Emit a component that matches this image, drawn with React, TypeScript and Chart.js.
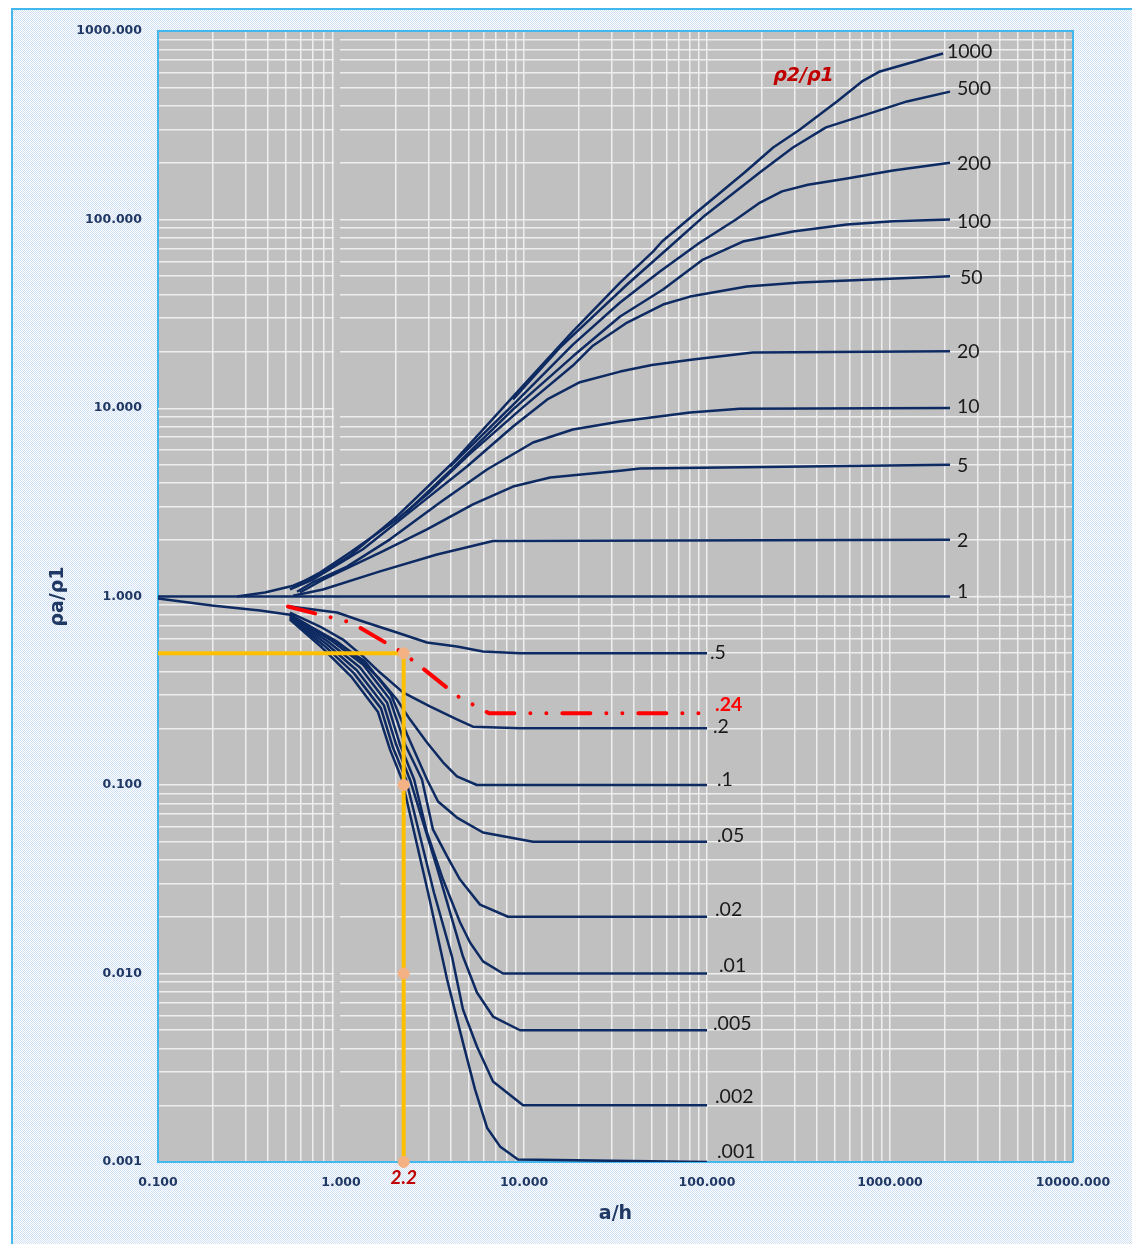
import React, { useEffect, useRef } from 'react';
import { Chart, registerables } from 'chart.js';

Chart.register(...registerables);

type Pt = [number, number];

const W = 1132;
const H = 1244;

// labelled decades on both log axes
const X_TICKS = [0.1, 1, 10, 100, 1000, 10000];
const Y_TICKS = [0.001, 0.01, 0.1, 1, 10, 100, 1000];

// ρ2/ρ1 > 1 : apparent resistivity ρa/ρ1 against a/h
const R1000: Pt[] = [[0.27, 1.0], [0.384, 1.05], [0.547, 1.14], [0.768, 1.31], [1.12, 1.65], [2.02, 2.66], [4.09, 5.14], [8.71, 11.5], [18.5, 25.5], [33.5, 46.3], [50.7, 67.6], [56.8, 76.4], [91.5, 113], [161, 178], [230, 241], [322, 300], [513, 423], [703, 540], [881, 610], [1948, 760]];
const R500: Pt[] = [[8.71, 11.1], [15.7, 20.9], [36.6, 45.2], [62.8, 71.9], [95.1, 103], [195, 178], [295, 241], [447, 308], [807, 370], [1238, 423], [2128, 477]];
const R200: Pt[] = [[3.94, 4.89], [8.71, 10.4], [18.5, 21.7], [33.5, 36.3], [55.3, 53.0], [91.5, 75.5], [144, 100], [195, 123], [257, 141], [356, 153], [582, 165], [1038, 182], [2128, 200]];
const R100: Pt[] = [[2.27, 2.79], [4.09, 4.8], [8.71, 9.83], [18.5, 18.8], [33.5, 30.6], [57.5, 42.5], [95.1, 61.3], [157, 76.4], [295, 86.3], [582, 94.0], [1038, 98], [2128, 100]];
const R50: Pt[] = [[0.547, 1.12], [0.768, 1.34], [1.12, 1.71], [2.02, 2.56], [2.99, 3.52], [5.0, 5.66], [10, 10.2], [18.5, 16.8], [23.8, 21.4], [36.6, 28.4], [57.5, 35.4], [80.8, 39.0], [165, 44.1], [322, 46.3], [2128, 50]];
const R20: Pt[] = [[0.526, 1.09], [0.703, 1.23], [1.318, 1.78], [2.47, 2.89], [4.88, 4.89], [8.71, 7.98], [13.4, 11.1], [20.2, 13.7], [33.5, 15.6], [50, 16.9], [83.8, 18.1], [178, 19.7], [2128, 20]];
const R10: Pt[] = [[0.575, 1.06], [0.703, 1.19], [1.079, 1.44], [1.853, 2.01], [3.475, 3.15], [6.28, 4.72], [11.2, 6.56], [18.5, 7.69], [33.5, 8.48], [80.8, 9.46], [151, 9.9], [2128, 10]];
const R5: Pt[] = [[0.597, 1.05], [0.797, 1.23], [1.634, 1.71], [2.95, 2.27], [5.26, 3.08], [8.71, 3.83], [13.9, 4.28], [33.5, 4.65], [43, 4.78], [2128, 5]];
const R2: Pt[] = [[0.547, 1.01], [0.797, 1.09], [1.634, 1.36], [3.346, 1.67], [6.77, 1.97], [2128, 2]];
const R1: Pt[] = [[0.1, 1], [2128, 1]];
const R1_TAIL: Pt[] = [[2900, 1], [10000, 1]];

// ρ2/ρ1 < 1 family
const R05: Pt[] = [[0.526, 0.885], [0.951, 0.822], [1.318, 0.737], [2.02, 0.644], [2.95, 0.57], [4.3, 0.543], [5.97, 0.511], [9.51, 0.5], [100, 0.5]];
const R02: Pt[] = [[0.526, 0.822], [0.768, 0.693], [1.025, 0.591], [1.318, 0.481], [1.634, 0.395], [2.18, 0.31], [3.06, 0.261], [4.3, 0.223], [5.26, 0.204], [9.51, 0.2], [100, 0.2]];
const R01: Pt[] = [[0.526, 0.803], [0.677, 0.693], [0.951, 0.577], [1.27, 0.463], [1.634, 0.363], [2.02, 0.284], [2.38, 0.223], [2.95, 0.168], [3.61, 0.132], [4.3, 0.111], [5.53, 0.1], [100, 0.1]];
const R005: Pt[] = [[0.1, 0.976], [0.197, 0.896], [0.361, 0.843], [0.526, 0.8], [0.904, 0.591], [1.352, 0.452], [1.876, 0.302], [2.3, 0.185], [2.95, 0.107], [3.39, 0.0817], [4.3, 0.0672], [5.97, 0.056], [11.2, 0.05], [100, 0.05]];
const R002: Pt[] = [[0.526, 0.793], [0.871, 0.591], [1.318, 0.436], [1.853, 0.284], [2.24, 0.164], [2.77, 0.107], [3.18, 0.0581], [3.8, 0.0418], [4.47, 0.0315], [5.75, 0.0232], [8.18, 0.02], [100, 0.02]];
const R001: Pt[] = [[0.526, 0.783], [0.849, 0.577], [1.27, 0.42], [1.784, 0.274], [2.1, 0.164], [2.51, 0.107], [2.95, 0.056], [3.61, 0.0315], [4.47, 0.0187], [5.07, 0.0146], [5.97, 0.0116], [7.68, 0.01], [100, 0.01]];
const R0005: Pt[] = [[0.526, 0.774], [0.828, 0.563], [1.223, 0.405], [1.718, 0.264], [2.0, 0.164], [2.38, 0.107], [3.346, 0.0365], [4.64, 0.0123], [5.53, 0.00793], [6.77, 0.00591], [9.51, 0.005], [100, 0.005]];
const R0002: Pt[] = [[0.526, 0.764], [0.807, 0.55], [1.178, 0.391], [1.654, 0.255], [1.923, 0.158], [2.266, 0.107], [3.22, 0.0269], [4.04, 0.0123], [4.64, 0.00644], [5.53, 0.0041], [6.77, 0.00267], [9.88, 0.002], [100, 0.002]];
const R0001: Pt[] = [[0.526, 0.755], [0.787, 0.536], [1.134, 0.377], [1.59, 0.245], [1.853, 0.154], [2.154, 0.107], [2.99, 0.0269], [3.8, 0.00929], [4.64, 0.0043], [5.4, 0.00243], [6.28, 0.00152], [7.39, 0.00121], [9.27, 0.00103], [100, 0.001]];

// interpolated field curve and the reading guide
const R024: Pt[] = [[0.513, 0.885], [1.134, 0.728], [2.2, 0.5], [4.36, 0.295], [6.44, 0.24], [100, 0.24]];
const GUIDE_H: Pt[] = [[0.1, 0.5], [2.2, 0.5]];
const GUIDE_V: Pt[] = [[2.2, 0.5], [2.2, 0.001]];
const GUIDE_MARKS: Pt[] = [[2.2, 0.5], [2.2, 0.1], [2.2, 0.01], [2.2, 0.001]];
const GUIDE_X_LABEL = '2.2';

const UPPER = [
  { name: '1000', data: R1000 }, { name: '500', data: R500 }, { name: '200', data: R200 },
  { name: '100', data: R100 }, { name: '50', data: R50 }, { name: '20', data: R20 },
  { name: '10', data: R10 }, { name: '5', data: R5 }, { name: '2', data: R2 }, { name: '1', data: R1 },
];
const LOWER = [
  { name: '.5', data: R05 }, { name: '.2', data: R02 }, { name: '.1', data: R01 },
  { name: '.05', data: R005 }, { name: '.02', data: R002 }, { name: '.01', data: R001 },
  { name: '.005', data: R0005 }, { name: '.002', data: R0002 }, { name: '.001', data: R0001 },
];
const FIELD = { name: '.24', data: R024 };

// label nudges in px from the curve end: [dx, dy]
const NUDGE: Record<string, [number, number]> = {
  '1000': [4, -2], '500': [7, -3], '200': [7, 1], '100': [7, 2], '50': [10, 1], '20': [7, 0],
  '10': [7, -1], '5': [7, 1], '2': [7, 1], '1': [7, -5],
  '.5': [3, -1], '.2': [6, -2], '.1': [10, -5], '.05': [10, -6], '.02': [8, -7], '.01': [12, -8],
  '.005': [6, -7], '.002': [8, -9], '.001': [10, -10], '.24': [8, -9],
};

const NAVY_LINE = '#0e2a62';
const NAVY_TEXT = '#1f3864';
const PLOT_BG = '#c0c0c0';
const GRID = '#eeeeee';
const FRAME = '#42b8ec';

const decadeSteps = (lo: number, hi: number) => {
  const out: number[] = [];
  for (let e = lo; e < hi; e++) {
    for (let k = 1; k <= 9; k++) out.push(Number((k * Math.pow(10, e)).toPrecision(6)));
  }
  out.push(Math.pow(10, hi));
  return out;
};
const X_GRID = decadeSteps(-1, 4);
const Y_GRID = decadeSteps(-3, 3);
const inList = (list: number[], v: number) => list.some((t) => Math.abs(t - v) < t * 1e-9);

const toXY = (d: Pt[]) => d.map(([x, y]) => ({ x, y }));

let bgPattern: CanvasPattern | null = null;

const decor = {
  id: 'decor',
  beforeDraw(chart: any) {
    const { ctx, width, height, chartArea: a } = chart;
    if (!bgPattern) {
      const pc = document.createElement('canvas');
      pc.width = 2;
      pc.height = 2;
      const p = pc.getContext('2d')!;
      p.fillStyle = '#ffffff';
      p.fillRect(0, 0, 2, 2);
      p.fillStyle = '#cfe0f4';
      p.fillRect(0, 0, 1, 1);
      p.fillRect(1, 1, 1, 1);
      bgPattern = ctx.createPattern(pc, 'repeat');
    }
    ctx.save();
    ctx.fillStyle = '#ffffff';
    ctx.fillRect(0, 0, width, height);
    ctx.fillStyle = bgPattern as any;
    ctx.fillRect(12, 9, width - 12, height - 9);
    ctx.strokeStyle = FRAME;
    ctx.lineWidth = 2;
    ctx.beginPath();
    ctx.moveTo(12, height);
    ctx.lineTo(12, 9);
    ctx.lineTo(width, 9);
    ctx.stroke();
    ctx.fillStyle = PLOT_BG;
    ctx.fillRect(a.left, a.top, a.right - a.left, a.bottom - a.top);
    ctx.restore();
  },
  beforeDatasetsDraw(chart: any) {
    const { ctx, chartArea: a } = chart;
    const xs = chart.scales.x;
    const ys = chart.scales.y;
    const x1 = Math.round(xs.getPixelForValue(1));
    ctx.save();
    // the 10 gridline only runs up to the a/h = 1 break
    ctx.strokeStyle = GRID;
    ctx.lineWidth = 1.5;
    const y10 = Math.round(ys.getPixelForValue(10)) + 0.75;
    ctx.beginPath();
    ctx.moveTo(a.left, y10);
    ctx.lineTo(x1 - 7, y10);
    ctx.stroke();
    ctx.fillStyle = PLOT_BG;
    ctx.fillRect(x1 - 7, a.top + 1, 6, a.bottom - a.top - 2);
    // top and right frame of the plot
    ctx.strokeStyle = FRAME;
    ctx.lineWidth = 2;
    ctx.beginPath();
    ctx.moveTo(a.left, a.top);
    ctx.lineTo(a.right, a.top);
    ctx.lineTo(a.right, a.bottom);
    ctx.stroke();
    ctx.restore();
  },
  afterDatasetsDraw(chart: any) {
    const { ctx, chartArea: a } = chart;
    const xs = chart.scales.x;
    const ys = chart.scales.y;
    ctx.save();
    ctx.textBaseline = 'middle';
    ctx.textAlign = 'left';
    const put = (name: string, data: Pt[], font: string, color: string) => {
      const last = data[data.length - 1];
      const [dx, dy] = NUDGE[name] || [7, 0];
      ctx.font = font;
      ctx.fillStyle = color;
      ctx.fillText(name, xs.getPixelForValue(last[0]) + dx, ys.getPixelForValue(last[1]) + dy);
    };
    for (const s of UPPER) put(s.name, s.data, '19.5px Lato', '#1a1a1a');
    for (const s of LOWER) put(s.name, s.data, '19.5px Lato', '#1a1a1a');
    put(FIELD.name, FIELD.data, 'bold 19.5px Lato', '#ff0000');

    ctx.font = 'italic bold 19px "DejaVu Sans"';
    ctx.fillStyle = '#c00000';
    ctx.fillText('ρ2/ρ1', xs.getPixelForValue(230), ys.getPixelForValue(574));

    ctx.font = 'italic bold 19px Lato';
    ctx.textAlign = 'center';
    ctx.fillText(GUIDE_X_LABEL, xs.getPixelForValue(GUIDE_V[0][0]), a.bottom + 16);
    ctx.restore();
  },
};

const curveSet = (list: { name: string; data: Pt[] }[]) =>
  list.map((s) => ({
    label: s.name,
    data: toXY(s.data),
    borderColor: NAVY_LINE,
    borderWidth: 2.5,
    pointRadius: 0,
    tension: 0,
    fill: false,
    borderJoinStyle: 'round' as const,
  }));

export default function App() {
  const ref = useRef<HTMLCanvasElement | null>(null);

  useEffect(() => {
    const canvas = ref.current;
    if (!canvas) return;
    const datasets: any[] = [
      {
        label: 'marks',
        data: toXY(GUIDE_MARKS),
        showLine: false,
        pointRadius: 5.5,
        pointHoverRadius: 5.5,
        pointStyle: 'circle',
        pointBackgroundColor: '#f4b183',
        pointBorderColor: '#f4b183',
        pointBorderWidth: 1,
        borderColor: '#f4b183',
        backgroundColor: '#f4b183',
        clip: false,
      },
      {
        label: FIELD.name,
        data: toXY(FIELD.data),
        borderColor: '#ff0000',
        borderWidth: 4,
        borderCapStyle: 'round',
        borderDash: [28, 16, 0.01, 16, 0.01, 16],
        pointRadius: 0,
        tension: 0,
        fill: false,
      },
      { label: 'guide-h', data: toXY(GUIDE_H), borderColor: '#ffc000', borderWidth: 4, pointRadius: 0, fill: false },
      { label: 'guide-v', data: toXY(GUIDE_V), borderColor: '#ffc000', borderWidth: 4, pointRadius: 0, fill: false },
      ...curveSet(UPPER),
      ...curveSet(LOWER),
      {
        label: 'tail',
        data: toXY(R1_TAIL),
        borderColor: '#e4e4e4',
        borderWidth: 2,
        borderDash: [2, 3],
        pointRadius: 0,
        fill: false,
      },
    ];

    const tickFont = { family: '"DejaVu Sans"', size: 12.5, weight: 'bold' as const };
    const titleFont = { family: '"DejaVu Sans"', size: 19, weight: 'bold' as const };

    const chart = new Chart(canvas, {
      type: 'line',
      data: { datasets },
      plugins: [decor],
      options: {
        responsive: false,
        animation: false,
        devicePixelRatio: 1,
        layout: { padding: { left: 0, top: 31, right: 59, bottom: 0 } },
        plugins: { legend: { display: false }, tooltip: { enabled: false }, title: { display: false } },
        scales: {
          x: {
            type: 'logarithmic',
            position: 'bottom',
            min: 0.1,
            max: 10000,
            afterBuildTicks: (s: any) => {
              s.ticks = X_GRID.map((v) => ({ value: v }));
            },
            afterFit: (s: any) => {
              s.height = 82;
              s.paddingLeft = 0;
              s.paddingRight = 0;
            },
            ticks: {
              autoSkip: false,
              maxRotation: 0,
              minRotation: 0,
              padding: 13,
              color: NAVY_TEXT,
              font: tickFont,
              callback: (v: any) => (inList(X_TICKS, Number(v)) ? Number(v).toFixed(3) : ''),
            },
            grid: {
              drawTicks: false,
              lineWidth: 1.5,
              color: (c: any) => (c.tick && Math.abs(c.tick.value - 1) < 1e-9 ? 'rgba(0,0,0,0)' : GRID),
            },
            border: { display: true, color: FRAME, width: 2 },
            title: { display: true, text: 'a/h', color: NAVY_TEXT, font: titleFont, padding: { top: 0, bottom: 18.6 } },
          },
          y: {
            type: 'logarithmic',
            position: 'left',
            min: 0.001,
            max: 1000,
            afterBuildTicks: (s: any) => {
              s.ticks = Y_GRID.map((v) => ({ value: v }));
            },
            afterFit: (s: any) => {
              s.width = 158;
              s.paddingTop = 0;
              s.paddingBottom = 0;
            },
            ticks: {
              autoSkip: false,
              padding: 16,
              color: NAVY_TEXT,
              font: tickFont,
              callback: (v: any) => (inList(Y_TICKS, Number(v)) ? Number(v).toFixed(3) : ''),
            },
            grid: {
              drawTicks: false,
              lineWidth: 1.5,
              color: (c: any) => (c.tick && Math.abs(c.tick.value - 10) < 1e-9 ? 'rgba(0,0,0,0)' : GRID),
            },
            border: { display: true, color: FRAME, width: 2 },
            title: { display: true, text: 'ρa/ρ1', color: NAVY_TEXT, font: titleFont, padding: { top: 47, bottom: 0 } },
          },
        },
      } as any,
    });
    return () => chart.destroy();
  }, []);

  return (
    <div style={{ position: 'absolute', left: 0, top: 0, width: W, height: H }}>
      <canvas ref={ref} width={W} height={H} style={{ display: 'block', width: W, height: H }} />
    </div>
  );
}
